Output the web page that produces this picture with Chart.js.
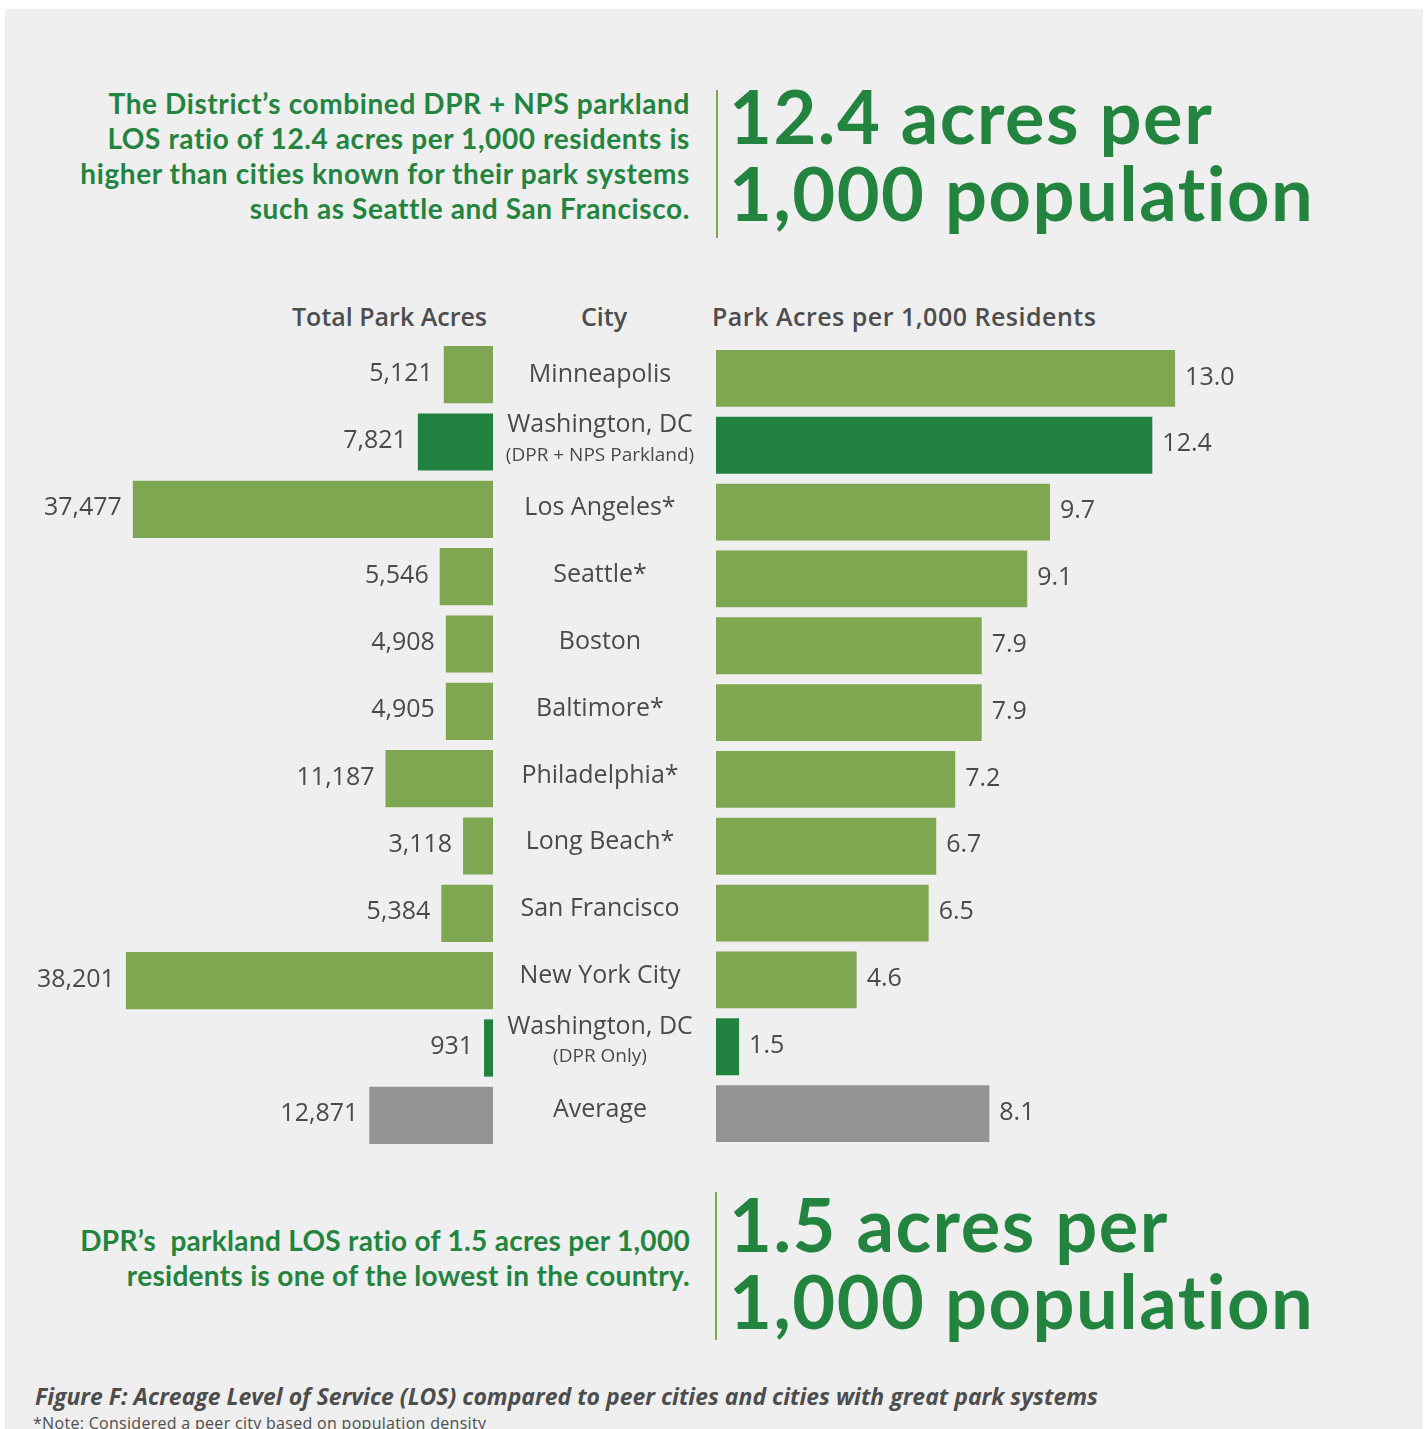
<!DOCTYPE html>
<html>
<head>
<meta charset="utf-8">
<script src="https://cdn.jsdelivr.net/npm/chart.js@4.4.1/dist/chart.umd.min.js"></script>
<style>
  html, body { margin: 0; padding: 0; background: #ffffff; }
  body { width: 1427px; height: 1429px; position: relative; overflow: hidden; }
  #panel { position: absolute; left: 5px; top: 9px; width: 1418px; height: 1440px; background: #efefef; }
  .abs { position: absolute; white-space: pre; font-variant-ligatures: none; }
  .lead { font-family: Lato, "Open Sans", sans-serif; font-weight: 700; color: #23843f; font-size: 28px; letter-spacing: 0.6px; line-height: 35px; text-align: right; }
  .big { font-family: Lato, "Open Sans", sans-serif; font-weight: 700; color: #23843f; font-size: 74px; letter-spacing: 1.5px; line-height: 77px; }
  .vline { position: absolute; width: 2px; background: #7fa650; }
  .colhead { font-family: "Open Sans", sans-serif; font-weight: 600; color: #4d4d4d; font-size: 25px; line-height: 30px; }
  .caption { font-family: "Open Sans", sans-serif; font-weight: 700; font-style: italic; color: #4d4d4d; font-size: 23px; letter-spacing: 0px; }
  .note { font-family: "Open Sans", sans-serif; color: #4d4d4d; font-size: 16px; letter-spacing: 0.3px; }
  canvas { position: absolute; }
</style>
</head>
<body>
<div id="panel"></div>

<div class="abs lead" style="right:737px; top:86px;">The District’s combined DPR + NPS parkland
LOS ratio of 12.4 acres per 1,000 residents is
higher than cities known for their park systems
such as Seattle and San Francisco.</div>
<div class="vline" style="left:716px; top:90px; height:148px;"></div>
<div class="abs big" style="left:729px; top:77px;">12.4 acres per
1,000 population</div>

<div class="abs colhead" style="left:292px; top:301px;">Total Park Acres</div>
<div class="abs colhead" style="left:581px; top:301px;">City</div>
<div class="abs colhead" style="left:712px; top:301px; letter-spacing:0.5px;">Park Acres per 1,000 Residents</div>

<canvas id="leftChart" width="494" height="870" style="left:0px; top:300px;"></canvas>
<canvas id="rightChart" width="830" height="870" style="left:494px; top:300px;"></canvas>

<div class="abs lead" style="right:737px; top:1223px; letter-spacing:0.3px;">DPR’s  parkland LOS ratio of 1.5 acres per 1,000
residents is one of the lowest in the country.</div>
<div class="vline" style="left:715px; top:1192px; height:148px;"></div>
<div class="abs big" style="left:729px; top:1185px;">1.5 acres per
1,000 population</div>

<div class="abs caption" style="left:35px; top:1380px;">Figure F: Acreage Level of Service (LOS) compared to peer cities and cities with great park systems</div>
<div class="abs note" style="left:33px; top:1412px;">*Note: Considered a peer city based on population density</div>

<script>
// ---- data ----
const cities = ['Minneapolis', 'Washington, DC', 'Los Angeles*', 'Seattle*', 'Boston', 'Baltimore*',
  'Philadelphia*', 'Long Beach*', 'San Francisco', 'New York City', 'Washington, DC', 'Average'];
const citySubLabels = ['', '(DPR + NPS Parkland)', '', '', '', '', '', '', '', '', '(DPR Only)', ''];
const totalParkAcres = [5121, 7821, 37477, 5546, 4908, 4905, 11187, 3118, 5384, 38201, 931, 12871];
const acresPer1000 = [13.0, 12.4, 9.7, 9.1, 7.9, 7.9, 7.2, 6.7, 6.5, 4.6, 1.5, 8.1];
const rowKind = ['peer', 'dc', 'peer', 'peer', 'peer', 'peer', 'peer', 'peer', 'peer', 'peer', 'dc', 'avg'];

const kindColor = { peer: '#7fa650', dc: '#218240', avg: '#939393' };
const barColors = rowKind.map(k => kindColor[k]);
const labelColor = '#4a4a4a';

const valueLabels = (side, fmt) => ({
  id: 'valueLabels_' + side,
  afterDatasetsDraw(chart) {
    const ctx = chart.ctx;
    const meta = chart.getDatasetMeta(0);
    const vals = chart.data.datasets[0].data;
    ctx.save();
    ctx.font = '25px "Open Sans", sans-serif';
    ctx.fillStyle = labelColor;
    ctx.textBaseline = 'middle';
    meta.data.forEach((bar, i) => {
      if (side === 'left') {
        ctx.textAlign = 'right';
        ctx.fillText(fmt(vals[i]), bar.x - 11, bar.y - 1);
      } else {
        ctx.textAlign = 'left';
        ctx.fillText(fmt(vals[i]), bar.x + 10, bar.y - 1);
      }
    });
    ctx.restore();
  }
});

const cityLabels = {
  id: 'cityLabels',
  afterDatasetsDraw(chart) {
    const ctx = chart.ctx;
    const yScale = chart.scales.y;
    const cx = 600 - 494;
    ctx.save();
    ctx.fillStyle = labelColor;
    ctx.textAlign = 'center';
    ctx.textBaseline = 'middle';
    cities.forEach((name, i) => {
      const y = yScale.getPixelForValue(i);
      if (citySubLabels[i]) {
        ctx.font = '25px "Open Sans", sans-serif';
        ctx.fillText(name, cx, y - 20);
        ctx.font = '19px "Open Sans", sans-serif';
        ctx.fillText(citySubLabels[i], cx, y + 10);
      } else {
        ctx.font = '25px "Open Sans", sans-serif';
        ctx.fillText(name, cx, y - 4);
      }
    });
    ctx.restore();
  }
};

const common = {
  indexAxis: 'y',
  responsive: false,
  animation: false,
  plugins: { legend: { display: false }, tooltip: { enabled: false } },
};

new Chart(document.getElementById('leftChart'), {
  type: 'bar',
  data: {
    labels: cities,
    datasets: [{ data: totalParkAcres, backgroundColor: barColors, borderWidth: 0,
      barPercentage: 0.85, categoryPercentage: 1.0 }]
  },
  options: Object.assign({}, common, {
    layout: { padding: { left: 0, right: 1, top: 41, bottom: 21 } },
    scales: {
      x: { display: false, reverse: true, min: 0, max: 51300 },
      y: { display: false }
    }
  }),
  plugins: [valueLabels('left', v => v.toLocaleString('en-US'))]
});

new Chart(document.getElementById('rightChart'), {
  type: 'bar',
  data: {
    labels: cities,
    datasets: [{ data: acresPer1000, backgroundColor: barColors, borderWidth: 0,
      barPercentage: 0.85, categoryPercentage: 1.0 }]
  },
  options: Object.assign({}, common, {
    layout: { padding: { left: 222, right: 64, top: 45, bottom: 23 } },
    scales: {
      x: { display: false, min: 0.89, max: 15.24 },
      y: { display: false }
    }
  }),
  plugins: [valueLabels('right', v => v.toFixed(1)), cityLabels]
});
</script>
</body>
</html>
